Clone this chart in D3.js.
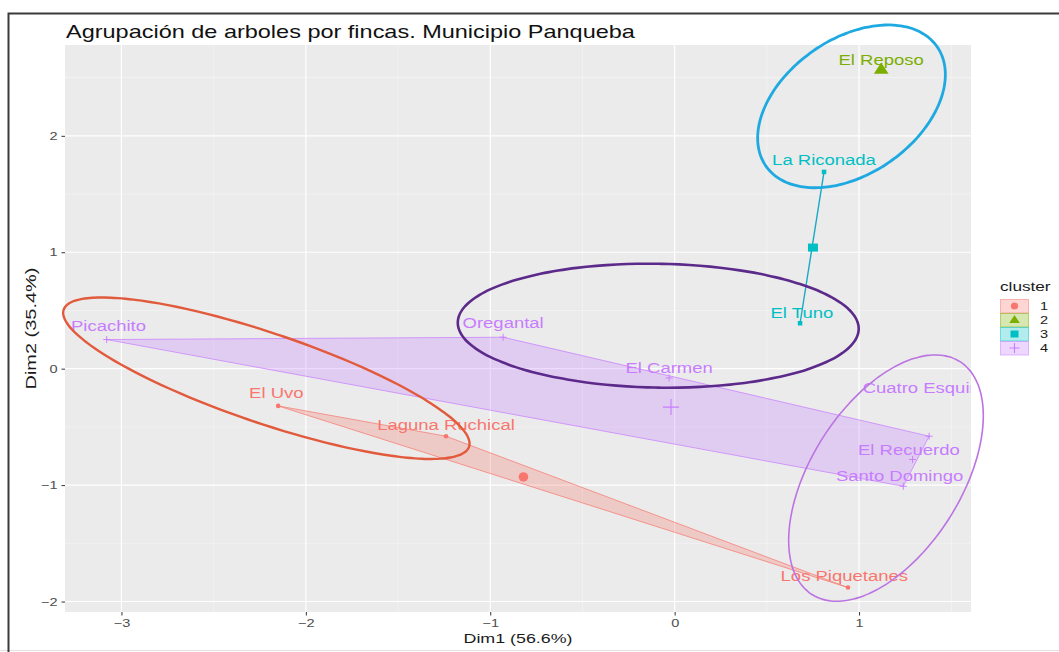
<!DOCTYPE html>
<html>
<head>
<meta charset="utf-8">
<script src="https://cdn.jsdelivr.net/npm/d3@7"></script>
<style>
  html, body { margin: 0; padding: 0; background: #ffffff; }
  svg { display: block; }
  text { font-family: "Liberation Sans", Arial, sans-serif; }
</style>
</head>
<body>
<svg id="chart" width="1059" height="652"></svg>
<script>
// ---------------- data ----------------
const farms    = ["Picachito", "Oregantal", "El Carmen", "Cuatro Esquinas", "El Recuerdo", "Santo Domingo",
                  "El Uvo", "Laguna Ruchical", "Los Piquetanes", "El Reposo", "La Riconada", "El Tuno"];
const clusterOf = [4, 4, 4, 4, 4, 4, 1, 1, 1, 2, 3, 3];
const dim1 = [-3.08, -0.93, -0.03, 1.38, 1.29, 1.24, -2.15, -1.24, 0.94, 1.12, 0.81, 0.68];
const dim2 = [ 0.25,  0.27, -0.08, -0.58, -0.78, -1.01, -0.32, -0.58, -1.88, 2.57, 1.69, 0.39];
// label anchor positions (data units, text centre)
const labelX = [-3.07, -0.93, -0.03, 1.39, 1.27, 1.22, -2.16, -1.24, 0.92, 1.12, 0.81, 0.69];
const labelY = [ 0.37,  0.39,  0.01, -0.165, -0.70, -0.92, -0.21, -0.48, -1.78, 2.65, 1.79, 0.48];

const clusters  = [1, 2, 3, 4];
const centroidX = [-0.82, 1.12, 0.75, -0.02];
const centroidY = [-0.93, 2.57, 1.04, -0.33];

const xTicks = [-3, -2, -1, 0, 1];
const yTicks = [-2, -1, 0, 1, 2];
const xMinor = [-2.5, -1.5, -0.5, 0.5, 1.5];
const yMinor = [-1.5, -0.5, 0.5, 1.5, 2.5];

// hand-drawn ellipse annotations: centre and two half-axis vectors (data units)
const ellCX = [-2.214, -0.089, 0.959, 1.146];
const ellCY = [-0.082,  0.369, 2.253, -0.940];
const ellUX = [ 1.099,  1.087, 0.464, 0.401];
const ellUY = [-0.589, -0.026, 0.513, 1.000];
const ellVX = [-0.078,  0.000, 0.209, 0.343];
const ellVY = [-0.366, -0.532, -0.475, -0.345];

// ---------------- styles ----------------
const clusterColor = {1: "#F8766D", 2: "#7CAE00", 3: "#00BFC4", 4: "#C77CFF"};
const ellColor = ["#E25A3C", "#5C2A8A", "#1EA9E0", "#BB74E2"];
const ellWidth = [2.4, 2.6, 2.8, 1.6];
const STRETCH = 1.32;

const svg = d3.select("#chart");
const W = 1059, H = 652;
const P = {left: 65, right: 971, top: 45, bottom: 612};

const x = d3.scaleLinear().domain([-3.306, 1.607]).range([P.left, P.right]);
const y = d3.scaleLinear().domain([-2.09, 2.78]).range([P.bottom, P.top]);

svg.append("rect").attr("width", W).attr("height", H).attr("fill", "#ffffff");

// frame from the screenshot
svg.append("line").attr("x1", 0).attr("x2", W).attr("y1", 650.5).attr("y2", 650.5)
  .attr("stroke", "#e2e2e2").attr("stroke-width", 1);
svg.append("path").attr("d", `M8.5,${H} V13.5 H${W}`)
  .attr("fill", "none").attr("stroke", "#3a3a3a").attr("stroke-width", 2);

// panel
svg.append("rect").attr("x", P.left).attr("y", P.top)
  .attr("width", P.right - P.left).attr("height", P.bottom - P.top).attr("fill", "#EBEBEB");

const grid = svg.append("g");
grid.selectAll(".xmin").data(xMinor).join("line")
  .attr("x1", d => x(d)).attr("x2", d => x(d)).attr("y1", P.top).attr("y2", P.bottom)
  .attr("stroke", "#F7F7F7").attr("stroke-width", 0.6);
grid.selectAll(".ymin").data(yMinor).join("line")
  .attr("y1", d => y(d)).attr("y2", d => y(d)).attr("x1", P.left).attr("x2", P.right)
  .attr("stroke", "#F7F7F7").attr("stroke-width", 0.6);
grid.selectAll(".xmaj").data(xTicks).join("line")
  .attr("x1", d => x(d)).attr("x2", d => x(d)).attr("y1", P.top).attr("y2", P.bottom)
  .attr("stroke", "#ffffff").attr("stroke-width", 1.2);
grid.selectAll(".ymaj").data(yTicks).join("line")
  .attr("y1", d => y(d)).attr("y2", d => y(d)).attr("x1", P.left).attr("x2", P.right)
  .attr("stroke", "#ffffff").attr("stroke-width", 1.2);

svg.append("clipPath").attr("id", "clip").append("rect")
  .attr("x", P.left).attr("y", P.top).attr("width", P.right - P.left).attr("height", P.bottom - P.top);
const plot = svg.append("g").attr("clip-path", "url(#clip)");

const pts = farms.map((f, i) => ({name: f, c: clusterOf[i], x: dim1[i], y: dim2[i], lx: labelX[i], ly: labelY[i]}));

// hulls
clusters.forEach(c => {
  const cp = pts.filter(p => p.c === c).map(p => [x(p.x), y(p.y)]);
  if (cp.length >= 3) {
    const hull = d3.polygonHull(cp);
    plot.append("path").attr("d", "M" + hull.join("L") + "Z")
      .attr("fill", clusterColor[c]).attr("fill-opacity", 0.28)
      .attr("stroke", clusterColor[c]).attr("stroke-width", 0.8).attr("stroke-opacity", 0.9);
  } else if (cp.length === 2) {
    plot.append("path").attr("d", "M" + cp.join("L"))
      .attr("fill", "none").attr("stroke", "#1BA8C6").attr("stroke-width", 1.4);
  }
});

// symbol helper
function drawShape(g, c, cx, cy, size) {
  const col = clusterColor[c];
  const k = size; // 0 = small, 1 = legend, 2 = centroid
  if (c === 1) {
    g.append("circle").attr("cx", cx).attr("cy", cy).attr("r", [2.3, 3.6, 4.8][k]).attr("fill", col);
  } else if (c === 2) {
    const s = [3, 5, 7][k];
    g.append("path").attr("d", `M${cx},${cy - s} L${cx + s * 1.05},${cy + s * 0.6} L${cx - s * 1.05},${cy + s * 0.6}Z`).attr("fill", col);
  } else if (c === 3) {
    const w = [4.5, 8, 10][k], h = [4.5, 7, 8][k];
    g.append("rect").attr("x", cx - w / 2).attr("y", cy - h / 2).attr("width", w).attr("height", h).attr("fill", col);
  } else {
    const s = [3.5, 5, 8][k];
    g.append("path").attr("d", `M${cx - s},${cy} H${cx + s} M${cx},${cy - s} V${cy + s}`)
      .attr("stroke", col).attr("stroke-width", k ? 1.1 : 0.9).attr("fill", "none");
  }
}

pts.filter(p => p.c !== 2).forEach(p => drawShape(plot, p.c, x(p.x), y(p.y), 0));
clusters.forEach((c, i) => drawShape(plot, c, x(centroidX[i]), y(centroidY[i]), 2));

// labels
plot.selectAll(".lab").data(pts).join("text")
  .attr("class", "stretch")
  .attr("x", d => x(d.lx)).attr("y", d => y(d.ly))
  .attr("text-anchor", "middle").attr("dominant-baseline", "central")
  .attr("font-size", 14).attr("fill", d => clusterColor[d.c])
  .text(d => d.name);

// ellipses (annotation layer, not clipped)
const tt = d3.range(0, 360, 3).map(d => d * Math.PI / 180);
ellCX.forEach((cx, i) => {
  const line = tt.map(t => [
    x(cx + ellUX[i] * Math.cos(t) + ellVX[i] * Math.sin(t)),
    y(ellCY[i] + ellUY[i] * Math.cos(t) + ellVY[i] * Math.sin(t))
  ]);
  svg.append("path").attr("d", d3.line().curve(d3.curveCardinalClosed)(line))
    .attr("fill", "none").attr("stroke", ellColor[i]).attr("stroke-width", ellWidth[i]);
});

// axes
const axisCol = "#4D4D4D";
const gx = svg.append("g").attr("transform", `translate(0,${P.bottom})`)
  .call(d3.axisBottom(x).tickValues(xTicks).tickSize(3.5).tickPadding(4).tickFormat(d3.format("d")));
const gy = svg.append("g").attr("transform", `translate(${P.left},0)`)
  .call(d3.axisLeft(y).tickValues(yTicks).tickSize(3.5).tickPadding(4).tickFormat(d3.format("d")));
[gx, gy].forEach(g => {
  g.select(".domain").remove();
  g.selectAll(".tick line").attr("stroke", "#333333");
  g.selectAll(".tick text").attr("fill", axisCol).attr("font-size", 11)
    .attr("font-family", "Liberation Sans, Arial, sans-serif").attr("class", "stretch");
});

svg.append("text").attr("class", "stretch")
  .attr("x", (P.left + P.right) / 2).attr("y", 643)
  .attr("text-anchor", "middle").attr("font-size", 13.5).attr("fill", "#1a1a1a")
  .text("Dim1 (56.6%)");
svg.append("text")
  .attr("transform", `translate(36,${(P.top + P.bottom) / 2}) rotate(-90)`)
  .attr("text-anchor", "middle").attr("font-size", 14.5).attr("fill", "#1a1a1a")
  .attr("textLength", 122).attr("lengthAdjust", "spacingAndGlyphs")
  .text("Dim2 (35.4%)");

svg.append("text").attr("class", "stretch")
  .attr("x", 66).attr("y", 38).attr("font-size", 17.8).attr("fill", "#111111")
  .text("Agrupación de arboles por fincas. Municipio Panqueba");

// legend
const lg = svg.append("g");
lg.append("text").attr("class", "stretch").attr("x", 1000).attr("y", 291)
  .attr("font-size", 13).attr("fill", "#1a1a1a").text("cluster");
clusters.forEach((c, i) => {
  const ky = 299 + i * 14;
  lg.append("rect").attr("x", 1000.5).attr("y", ky + 0.5).attr("width", 28).attr("height", 13.5)
    .attr("fill", clusterColor[c]).attr("fill-opacity", 0.3)
    .attr("stroke", clusterColor[c]).attr("stroke-opacity", 0.5).attr("stroke-width", 1);
  drawShape(lg, c, 1014.5, ky + 7, 1);
  lg.append("text").attr("class", "stretch").attr("x", 1040).attr("y", ky + 7)
    .attr("dominant-baseline", "central").attr("font-size", 11).attr("fill", "#1a1a1a").text(c);
});

// horizontal stretch of the screenshot's text
svg.selectAll("text.stretch").each(function () {
  const w = this.getComputedTextLength();
  if (w > 0) {
    d3.select(this).attr("textLength", w * STRETCH).attr("lengthAdjust", "spacingAndGlyphs");
  }
});
</script>
</body>
</html>
